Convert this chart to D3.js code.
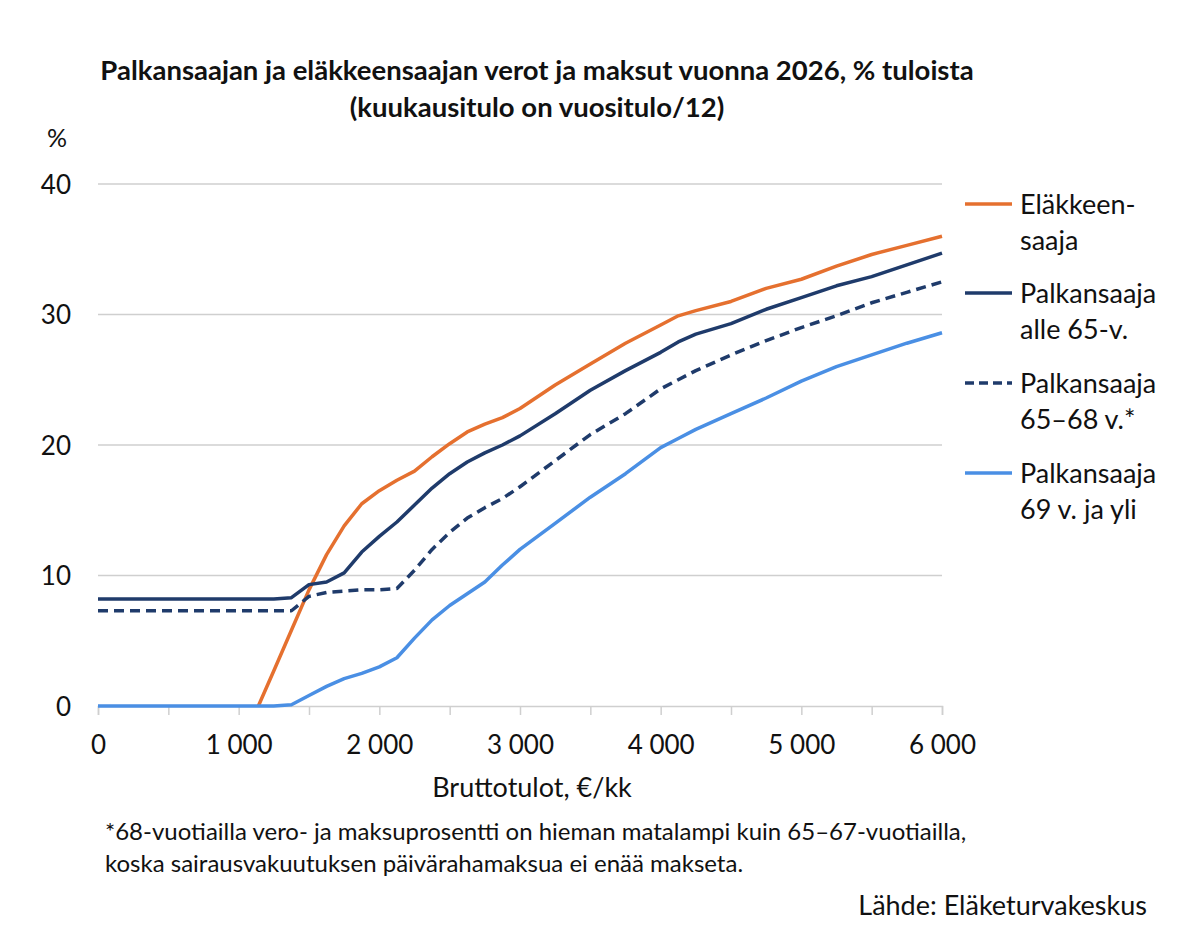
<!DOCTYPE html>
<html>
<head>
<meta charset="utf-8">
<script src="https://cdn.jsdelivr.net/npm/d3@7"></script>
<style>
  body { margin: 0; background: #fff; }
  svg text { font-family: Lato, "Open Sans", sans-serif; fill: #111; }
</style>
</head>
<body>
<div id="chart"></div>
<script>
// monthly gross income, €
var incomes = [0, 1000, 1125, 1250, 1375, 1500, 1625, 1750, 1875, 2000, 2125, 2250, 2375, 2500,
  2625, 2750, 2875, 3000, 3250, 3500, 3750, 4000, 4125, 4250, 4500, 4750, 5000, 5250, 5500, 5750, 6000];

// taxes and payments, % of income
var pensioner = [0, 0, 0, 2.7, 5.8, 8.9, 11.6, 13.8, 15.5, 16.5, 17.3, 18.0, 19.1, 20.1,
  21.0, 21.6, 22.1, 22.8, 24.6, 26.2, 27.8, 29.2, 29.9, 30.3, 31.0, 32.0, 32.7, 33.7, 34.6, 35.3, 36.0];
var under65 = [8.2, 8.2, 8.2, 8.2, 8.3, 9.3, 9.5, 10.2, 11.8, 13.0, 14.1, 15.4, 16.7, 17.8,
  18.7, 19.4, 20.0, 20.7, 22.4, 24.2, 25.7, 27.1, 27.9, 28.5, 29.3, 30.4, 31.3, 32.2, 32.9, 33.8, 34.7];
var age65to68 = [7.3, 7.3, 7.3, 7.3, 7.3, 8.4, 8.7, 8.8, 8.9, 8.9, 9.0, 10.4, 12.0, 13.3,
  14.4, 15.2, 15.9, 16.8, 18.8, 20.8, 22.4, 24.3, 25.0, 25.7, 26.9, 28.0, 29.0, 29.9, 30.9, 31.7, 32.5];
var age69plus = [0, 0, 0, 0, 0.1, 0.8, 1.5, 2.1, 2.5, 3.0, 3.7, 5.2, 6.6, 7.7,
  8.6, 9.5, 10.8, 12.0, 14.0, 16.0, 17.8, 19.8, 20.5, 21.2, 22.4, 23.6, 24.9, 26.0, 26.9, 27.8, 28.6];

var seriesNames = [["Eläkkeen-", "saaja"], ["Palkansaaja", "alle 65-v."], ["Palkansaaja", "65–68 v.*"], ["Palkansaaja", "69 v. ja yli"]];
var seriesValues = [pensioner, under65, age65to68, age69plus];
var seriesColors = ["#e5702f", "#1f3b6b", "#1f3b6b", "#4a8fe4"];
var seriesDash = [null, null, "10,6", null];

var yTicks = [0, 10, 20, 30, 40];
var xTicks = d3.range(0, 6001, 500);

var W = 1200, H = 946;
var svg = d3.select("#chart").append("svg").attr("width", W).attr("height", H);
svg.append("rect").attr("width", W).attr("height", H).attr("fill", "#fff");

var x = d3.scaleLinear().domain([0, 6000]).range([98, 942]);
var y = d3.scaleLinear().domain([0, 40]).range([706, 184]);

var fi = d3.formatLocale({decimal: ",", thousands: "\u00a0", grouping: [3], currency: ["", "€"]});
var fmt = fi.format(",d");

// title
svg.append("text").attr("x", 537).attr("y", 80).attr("text-anchor", "middle")
  .attr("font-size", 27.5).attr("font-weight", "bold")
  .text("Palkansaajan ja eläkkeensaajan verot ja maksut vuonna 2026, % tuloista");
svg.append("text").attr("x", 537).attr("y", 117).attr("text-anchor", "middle")
  .attr("font-size", 27.5).attr("font-weight", "bold")
  .text("(kuukausitulo on vuositulo/12)");

svg.append("text").attr("x", 57).attr("y", 147).attr("text-anchor", "middle")
  .attr("font-size", 25).text("%");

// gridlines
svg.append("g").selectAll("line").data(yTicks.slice(1)).enter().append("line")
  .attr("x1", x(0)).attr("x2", x(6000))
  .attr("y1", function(d) { return y(d); }).attr("y2", function(d) { return y(d); })
  .attr("stroke", "#cfcfcf").attr("stroke-width", 1.5);

// y axis labels
var yAxis = svg.append("g").attr("transform", "translate(" + x(0) + ",0)")
  .call(d3.axisLeft(y).tickValues(yTicks).tickSize(0).tickPadding(27));
yAxis.select(".domain").remove();
yAxis.selectAll("text").attr("font-size", 26).attr("dy", "0.36em");

// x axis
var xAxis = svg.append("g").attr("transform", "translate(0," + y(0) + ")")
  .call(d3.axisBottom(x).tickValues(xTicks).tickSize(9).tickPadding(21)
    .tickFormat(function(d) { return d % 1000 === 0 ? fmt(d) : ""; }));
xAxis.select(".domain").attr("stroke", "#cfcfcf").attr("stroke-width", 1.5);
xAxis.selectAll(".tick line").attr("stroke", "#cfcfcf").attr("stroke-width", 1.5);
xAxis.selectAll("text").attr("font-size", 26);

svg.append("text").attr("x", 532).attr("y", 797).attr("text-anchor", "middle")
  .attr("font-size", 27).text("Bruttotulot, €/kk");

// lines (straight segments, like the original)
var line = d3.line()
  .x(function(d) { return x(d[0]); })
  .y(function(d) { return y(d[1]); });

seriesValues.forEach(function(vals, i) {
  var pts = [];
  incomes.forEach(function(inc, j) {
    // pensioner curve starts at about 1 140 €
    if (i === 0 && inc === 1000) { pts.push([1140, 0]); return; }
    pts.push([inc, vals[j]]);
  });
  if (i === 0) pts = pts.filter(function(p) { return p[0] >= 1140; });
  svg.append("path").datum(pts)
    .attr("d", line)
    .attr("fill", "none")
    .attr("stroke", seriesColors[i])
    .attr("stroke-width", 3.5)
    .attr("stroke-linejoin", "round")
    .attr("stroke-dasharray", seriesDash[i]);
});

// legend
var legendLineY = [204, 293, 383, 473];
seriesNames.forEach(function(name, i) {
  var g = svg.append("g");
  g.append("line").attr("x1", 965).attr("x2", 1012)
    .attr("y1", legendLineY[i]).attr("y2", legendLineY[i])
    .attr("stroke", seriesColors[i]).attr("stroke-width", 3.5)
    .attr("stroke-dasharray", seriesDash[i] ? "9,5" : null);
  g.append("text").attr("x", 1020).attr("y", legendLineY[i] + 10)
    .attr("font-size", 27).text(name[0]);
  g.append("text").attr("x", 1020).attr("y", legendLineY[i] + 46)
    .attr("font-size", 27).text(name[1]);
});

// notes
svg.append("text").attr("x", 105).attr("y", 840).attr("font-size", 24)
  .text("*68-vuotiailla vero- ja maksuprosentti on hieman matalampi kuin 65–67-vuotiailla,");
svg.append("text").attr("x", 105).attr("y", 872).attr("font-size", 24)
  .text("koska sairausvakuutuksen päivärahamaksua ei enää makseta.");
svg.append("text").attr("x", 1147).attr("y", 915).attr("text-anchor", "end")
  .attr("font-size", 27).text("Lähde: Eläketurvakeskus");
</script>
</body>
</html>
